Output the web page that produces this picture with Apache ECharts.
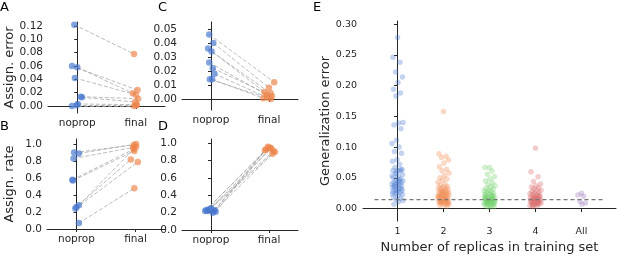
<!DOCTYPE html>
<html>
<head>
<meta charset="utf-8">
<script src="https://cdn.jsdelivr.net/npm/echarts@6/dist/echarts.min.js"></script>
<style>
  html, body { margin: 0; padding: 0; background: #fff; }
  #chart { width: 617px; height: 259px; }
</style>
</head>
<body>
<div id="chart"></div>
<script>
// categories
const pairCats = ['noprop', 'final']
const replicaCats = ['1', '2', '3', '4', 'All']

// A: assignment error
const aNoprop = [0.122, 0.060, 0.058, 0.042, 0.014, 0.013, 0.003, 0.000, 0.001]
const aFinal = [0.078, 0.024, 0.019, 0.017, 0.011, 0.006, 0.002, 0.000, 0.001]
// B: assignment rate
const bNoprop = [0.90, 0.89, 0.83, 0.58, 0.57, 0.26, 0.28, 0.24, 0.07]
const bFinal = [0.99, 1.00, 0.96, 0.94, 0.92, 0.82, 0.97, 0.79, 0.48]
// C: assignment error
const cNoprop = [0.046, 0.040, 0.036, 0.034, 0.026, 0.022, 0.018, 0.014, 0.014]
const cFinal = [0.012, 0.008, 0.005, 0.004, 0.003, 0.002, 0.001, 0.000, 0.0005]
// D: assignment rate
const dNoprop = [0.23, 0.22, 0.24, 0.21, 0.25, 0.22, 0.20, 0.23, 0.22]
const dFinal = [0.93, 0.95, 0.91, 0.96, 0.90, 0.94, 0.88, 0.92, 0.95]

// strip jitter offsets (category units)
const aJitN = [-0.05, -0.09, 0.00, -0.04, 0.06, 0.08, 0.01, -0.09, -0.01]
const aJitF = [-0.03, 0.03, -0.05, 0.00, 0.04, -0.01, 0.02, -0.03, 0.01]
const bJitN = [-0.04, 0.04, -0.05, -0.07, -0.06, 0.00, 0.04, -0.02, 0.04]
const bJitF = [-0.03, 0.01, -0.04, -0.03, -0.02, -0.08, 0.01, 0.04, -0.02]
const cJitN = [-0.03, 0.04, -0.05, 0.01, -0.03, 0.03, 0.06, -0.02, 0.02]
const cJitF = [0.09, 0.00, -0.08, 0.03, -0.04, 0.05, -0.03, 0.03, -0.10]
const dJitN = [-0.08, 0.05, -0.03, 0.08, 0.00, -0.06, 0.03, 0.06, -0.10]
const dJitF = [-0.05, 0.02, 0.08, -0.02, 0.10, 0.04, 0.06, -0.07, 0.00]

// E: generalization error per number of replicas
const e1 = [0.278, 0.246, 0.238, 0.222, 0.214, 0.205, 0.194, 0.188, 0.183, 0.140, 0.139, 0.136, 0.130, 0.111, 0.106, 0.100,
  0.093, 0.090, 0.080, 0.077, 0.072, 0.067, 0.063, 0.062, 0.062, 0.061, 0.058, 0.055, 0.052, 0.050, 0.048, 0.046, 0.045,
  0.044, 0.043, 0.042, 0.041, 0.040, 0.039, 0.038, 0.037, 0.035, 0.034, 0.033, 0.031, 0.030, 0.029, 0.028, 0.026, 0.025,
  0.023, 0.021, 0.019, 0.017, 0.015, 0.013, 0.011, 0.007, 0.064, 0.057, 0.053, 0.047, 0.036, 0.032, 0.027, 0.024]
const e2 = [0.158, 0.089, 0.085, 0.083, 0.079, 0.074, 0.068, 0.064, 0.061, 0.058, 0.054, 0.050, 0.048, 0.046, 0.043, 0.040,
  0.038, 0.036, 0.035, 0.034, 0.033, 0.032, 0.031, 0.030, 0.029, 0.028, 0.027, 0.026, 0.025, 0.025, 0.024, 0.023, 0.022,
  0.022, 0.021, 0.020, 0.020, 0.019, 0.018, 0.018, 0.017, 0.016, 0.016, 0.015, 0.014, 0.014, 0.013, 0.012, 0.012, 0.011,
  0.010, 0.010, 0.009, 0.008, 0.008, 0.007, 0.006, 0.005, 0.004, 0.027, 0.021, 0.015, 0.011, 0.009]
const e3 = [0.067, 0.067, 0.061, 0.056, 0.052, 0.048, 0.045, 0.042, 0.039, 0.037, 0.035, 0.033, 0.032, 0.030, 0.029, 0.028,
  0.026, 0.025, 0.024, 0.023, 0.022, 0.021, 0.020, 0.019, 0.018, 0.017, 0.017, 0.016, 0.015, 0.014, 0.014, 0.013, 0.012,
  0.012, 0.011, 0.010, 0.010, 0.009, 0.008, 0.008, 0.007, 0.006, 0.006, 0.005, 0.004, 0.003, 0.002, 0.019, 0.015, 0.011,
  0.009, 0.013, 0.016, 0.021]
const e4 = [0.098, 0.060, 0.052, 0.044, 0.040, 0.037, 0.035, 0.034, 0.032, 0.030, 0.029, 0.028, 0.026, 0.025, 0.024, 0.023,
  0.022, 0.021, 0.020, 0.019, 0.018, 0.017, 0.016, 0.016, 0.015, 0.014, 0.013, 0.013, 0.012, 0.011, 0.010, 0.010, 0.009,
  0.008, 0.007, 0.007, 0.006, 0.005, 0.004, 0.003, 0.020, 0.017, 0.012, 0.009, 0.006]
const eAll = [0.025, 0.022, 0.020, 0.012, 0.009, 0.007]
const eBaseline = 0.0145

// tick values
const aTicks = [0, 0.02, 0.04, 0.06, 0.08, 0.10, 0.12]
const rateTicks = [0, 0.2, 0.4, 0.6, 0.8, 1.0]
const cTicks = [0, 0.01, 0.02, 0.03, 0.04, 0.05]
const eTicks = [0, 0.05, 0.10, 0.15, 0.20, 0.25, 0.30]

const FONT = 'DejaVu Sans'
const INK = '#262626'
const BLUE = '#4878d0'
const ORANGE = '#ee854a'
const eColors = ['#4878d0', '#ee854a', '#6acc64', '#d65f5f', '#956cb4']

let myChart = echarts.init(document.getElementById('chart'), null, { renderer: 'canvas' })

function xPairAxis (idx) {
  return {
    type: 'value', gridIndex: idx, min: -0.5, max: 1.5,
    splitLine: { show: false },
    axisLine: { show: true, lineStyle: { color: INK, width: 1 } },
    axisTick: { show: true, length: 3, customValues: [0, 1], lineStyle: { color: INK } },
    axisLabel: {
      customValues: [0, 1], margin: 5, color: INK, fontFamily: FONT, fontSize: 10.5,
      formatter: v => pairCats[Math.round(v)]
    }
  }
}

function yAxis (idx, min, max, ticks, digits, name) {
  return {
    type: 'value', gridIndex: idx, min: min, max: max,
    name: name, nameLocation: 'middle', nameRotate: 90, nameGap: 31,
    nameTextStyle: { color: INK, fontFamily: FONT, fontSize: 13 },
    splitLine: { show: false },
    axisLine: { show: true, lineStyle: { color: INK, width: 1 } },
    axisTick: { show: true, length: 3, customValues: ticks, lineStyle: { color: INK } },
    axisLabel: {
      customValues: ticks, margin: 5, color: INK, fontFamily: FONT, fontSize: 10.5,
      formatter: v => v.toFixed(digits)
    }
  }
}

// connecting dashed lines + the two strips
function pairSeries (idx, nop, fin, jn, jf) {
  let lines = nop.map((v, i) => ({ coords: [[jn[i], v], [1 + jf[i], fin[i]]] }))
  return [
    {
      type: 'lines', coordinateSystem: 'cartesian2d', xAxisIndex: idx, yAxisIndex: idx,
      data: lines, z: 1,
      lineStyle: { color: '#a0a0a0', width: 1, type: [4, 2], opacity: 0.7 }
    },
    {
      type: 'scatter', xAxisIndex: idx, yAxisIndex: idx, symbolSize: 6.5, z: 2,
      itemStyle: { color: BLUE, opacity: 0.68 },
      data: nop.map((v, i) => [jn[i], v])
    },
    {
      type: 'scatter', xAxisIndex: idx, yAxisIndex: idx, symbolSize: 6.5, z: 2,
      itemStyle: { color: ORANGE, opacity: 0.68 },
      data: fin.map((v, i) => [1 + jf[i], v])
    }
  ]
}

// deterministic strip spread for panel E
function spread (i) {
  return (((i * 37 + 11) % 23) / 22 - 0.5) * 0.24
}

let eGroups = [e1, e2, e3, e4, eAll]
let eSeries = eGroups.map((g, k) => ({
  type: 'scatter', xAxisIndex: 4, yAxisIndex: 4, symbolSize: 5.5, z: 2,
  itemStyle: { color: eColors[k], opacity: 0.32 },
  data: g.map((v, i) => [k + (k === 4 ? spread(i) * 0.8 : spread(i)), v])
}))

let letter = (t, left, top) => ({
  text: t, left: left, top: top, padding: 0,
  textStyle: { fontFamily: FONT, fontSize: 13, fontWeight: 'normal', color: '#000' }
})

myChart.setOption({
  animation: false,
  title: [letter('A', 0, 1), letter('B', 0, 120), letter('C', 158, 1), letter('D', 158, 120), letter('E', 313, 1)],
  grid: [
    { left: 48, top: 22, width: 117, height: 91 },
    { left: 47, top: 139, width: 118, height: 90 },
    { left: 182, top: 22, width: 116, height: 88 },
    { left: 182, top: 139, width: 116, height: 91 },
    { left: 363, top: 21, width: 253, height: 208 }
  ],
  xAxis: [
    xPairAxis(0), xPairAxis(1), xPairAxis(2), xPairAxis(3),
    {
      type: 'value', gridIndex: 4, min: -0.75, max: 4.75,
      name: 'Number of replicas in training set', nameLocation: 'middle', nameGap: 17,
      nameTextStyle: { color: INK, fontFamily: FONT, fontSize: 13, verticalAlign: 'top' },
      splitLine: { show: false },
      axisLine: { show: true, lineStyle: { color: INK, width: 1 } },
      axisTick: { show: true, length: 3.5, customValues: [0, 1, 2, 3, 4], lineStyle: { color: INK } },
      axisLabel: {
        customValues: [0, 1, 2, 3, 4], margin: 5, color: INK, fontFamily: FONT, fontSize: 9.5,
        formatter: v => replicaCats[Math.round(v)]
      }
    }
  ],
  yAxis: [
    yAxis(0, -0.0105, 0.126, aTicks, 2, 'Assign. error'),
    yAxis(1, 0, 1.06, rateTicks, 1, 'Assign. rate'),
    yAxis(2, -0.0079, 0.055, cTicks, 2, ''),
    yAxis(3, 0, 1.05, rateTicks, 1, ''),
    Object.assign(yAxis(4, -0.0203, 0.305, eTicks, 2, 'Generalization error'), {
      axisTick: { show: true, length: 3.5, customValues: eTicks, lineStyle: { color: INK } },
      axisLabel: { customValues: eTicks, margin: 6, color: INK, fontFamily: FONT, fontSize: 9.5, formatter: v => v.toFixed(2) }
    })
  ],
  series: [
    ...pairSeries(0, aNoprop, aFinal, aJitN, aJitF),
    ...pairSeries(1, bNoprop, bFinal, bJitN, bJitF),
    ...pairSeries(2, cNoprop, cFinal, cJitN, cJitF),
    ...pairSeries(3, dNoprop, dFinal, dJitN, dJitF),
    {
      type: 'line', xAxisIndex: 4, yAxisIndex: 4, symbol: 'none', z: 3,
      lineStyle: { color: '#777', width: 1.2, type: [4, 3] },
      data: [[-0.5, eBaseline], [4.5, eBaseline]]
    },
    ...eSeries
  ]
})
</script>
</body>
</html>
